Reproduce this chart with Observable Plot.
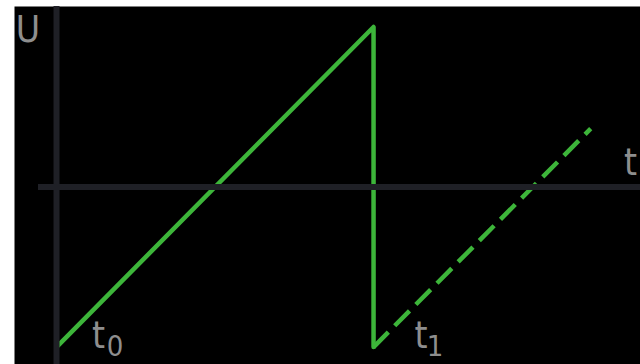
<!DOCTYPE html>
<html>
<head>
<meta charset="utf-8">
<script src="https://cdn.jsdelivr.net/npm/d3@7"></script>
<script src="https://cdn.jsdelivr.net/npm/@observablehq/plot@0.6"></script>
<style>
  html, body { margin: 0; padding: 0; background: #ffffff; }
</style>
</head>
<body>
<div id="chart"></div>
<script>
// One sawtooth period: the voltage ramps from −U₀ at t₀ up to +U₀ at t₁, then falls back
const rampT = [0, 1, 1];
const rampU = [-1, 1, -1];

// Beginning of the next ramp, drawn dashed
const nextT = [1, 1.685];
const nextU = [-1, 0.365];

// Event instants marked under the curve
const eventNames = ["t", "t"];
const eventSubs = ["0", "1"];
const eventT = [0, 1];

// Axis names
const axisNames = ["U", "t"];

const ramp = rampT.map((t, i) => ({t, U: rampU[i]}));
const next = nextT.map((t, i) => ({t, U: nextU[i]}));

const green = "#3db53a";
const axisColor = "#1f2026";
const labelColor = "#8e8e8e";
const font = "'Liberation Sans Narrow', 'DejaVu Sans Condensed', 'Arial Narrow', sans-serif";

function label(text, t, U, dx, dy, size, extra = {}) {
  return Plot.text([{t, U}], {
    x: "t", y: "U", text: () => text, dx, dy,
    fontSize: size, fontFamily: font, fill: labelColor,
    textAnchor: "middle", lineAnchor: "bottom", ...extra
  });
}

const chart = Plot.plot({
  width: 640,
  height: 364,
  marginTop: 6,
  marginLeft: 14,
  marginRight: 0,
  marginBottom: 0,
  x: {domain: [-0.1325, 1.842], axis: null},
  y: {domain: [-1.109, 1.128], axis: null},
  style: {background: "#ffffff", overflow: "visible"},
  marks: [
    Plot.frame({fill: "#000000", stroke: "none"}),
    Plot.line(ramp, {x: "t", y: "U", stroke: green, strokeWidth: 4.5}),
    Plot.line(next, {x: "t", y: "U", stroke: green, strokeWidth: 4.5,
      strokeDasharray: "21,9", strokeLinecap: "butt"}),
    Plot.ruleX([0], {stroke: axisColor, strokeWidth: 6}),
    Plot.ruleY([0], {stroke: axisColor, strokeWidth: 6, insetLeft: 24}),
    // axis names
    label(axisNames[0], 0, 1, -28.5, 15.5, 37),
    label(axisNames[1], 0, 0, 0, -12.5, 37, {x: null, frameAnchor: "right", dx: -10}),
    // event instants
    label(eventNames[0], eventT[0], -1, 42, 0.5, 37),
    label(eventSubs[0], eventT[0], -1, 58.5, 8.5, 29),
    label(eventNames[1], eventT[1], -1, 47.5, 0.5, 37),
    label(eventSubs[1], eventT[1], -1, 61.5, 8.5, 29)
  ]
});

document.getElementById("chart").appendChild(chart);
</script>
</body>
</html>
